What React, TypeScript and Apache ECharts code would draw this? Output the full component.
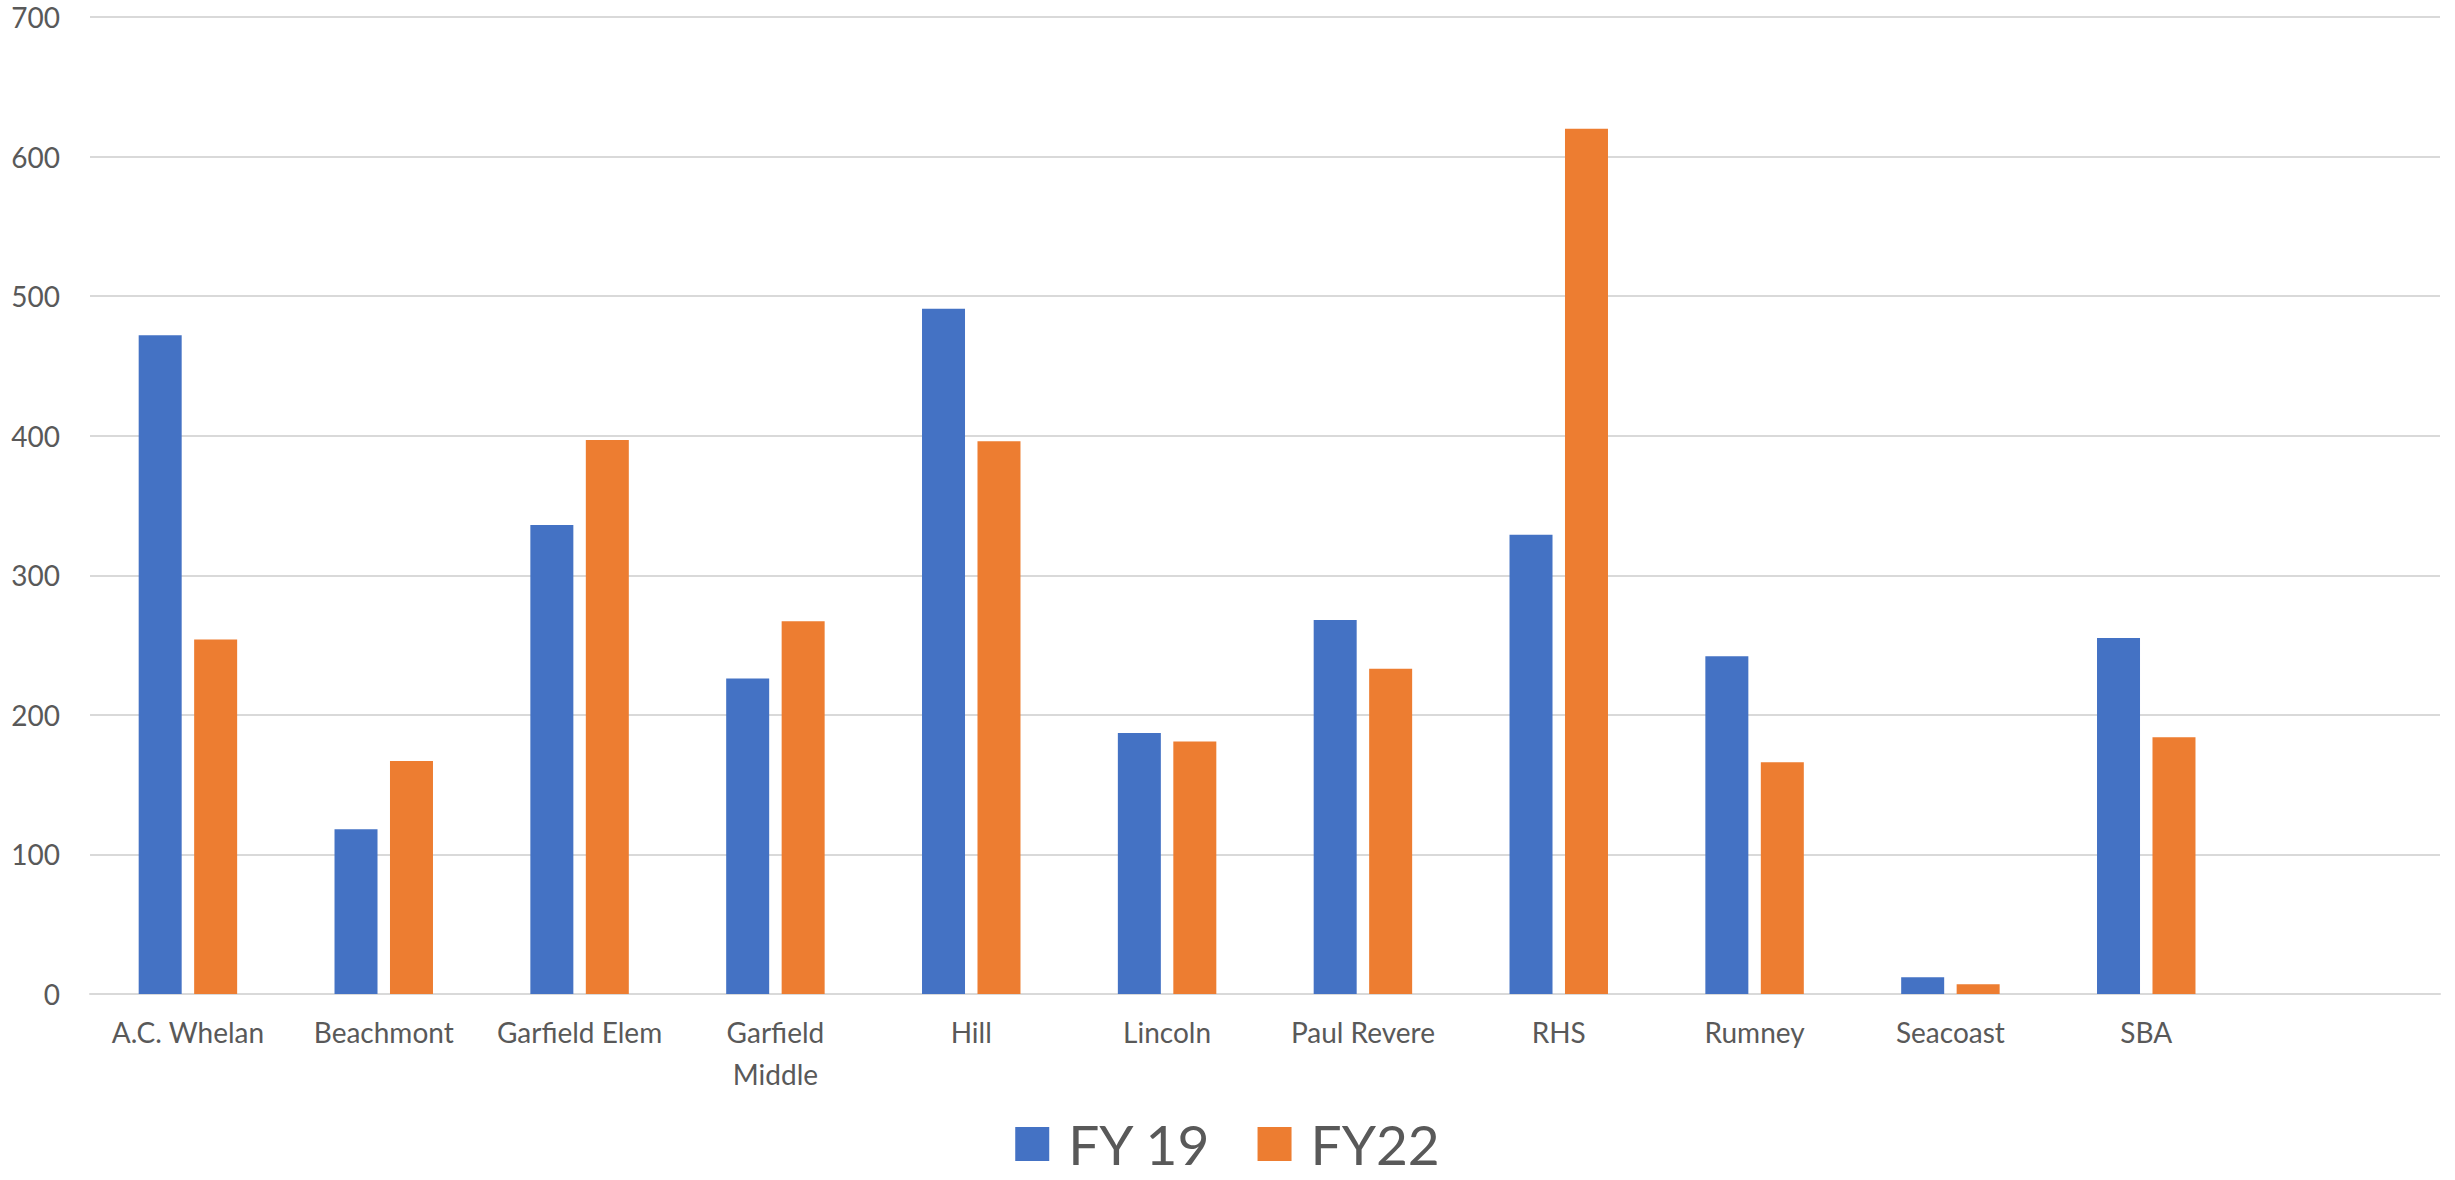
import React, { useEffect, useRef } from "react";
import * as echarts from "echarts";

const categories = [
  "A.C. Whelan",
  "Beachmont",
  "Garfield Elem",
  "Garfield Middle",
  "Hill",
  "Lincoln",
  "Paul Revere",
  "RHS",
  "Rumney",
  "Seacoast",
  "SBA",
  "",
];
const fy19 = [472, 118, 336, 226, 491, 187, 268, 329, 242, 12, 255, null];
const fy22 = [254, 167, 397, 267, 396, 181, 233, 620, 166, 7, 184, null];
const seriesNames = ["FY 19", "FY22"];
const yTicks = { min: 0, max: 700, interval: 100 };

export default function App() {
  const ref = useRef<HTMLDivElement>(null);
  useEffect(() => {
    if (!ref.current) return;
    const chart = echarts.init(ref.current, undefined, { renderer: "svg" });
    const font = "Lato, 'Open Sans', sans-serif";
    chart.setOption({
      animation: false,
      backgroundColor: "#ffffff",
      textStyle: { fontFamily: font },
      grid: { left: 90, right: 15, top: 17, bottom: 186, containLabel: false },
      legend: {
        data: seriesNames,
        left: "center",
        top: 1116,
        padding: 0,
        itemWidth: 34,
        itemHeight: 34,
        itemGap: 46,
        icon: "rect",
        textStyle: {
          fontFamily: font,
          fontSize: 55,
          color: "#595959",
          padding: [0, 0, 0, 14],
          lineHeight: 56,
        },
      },
      xAxis: {
        type: "category",
        data: categories,
        axisLine: { show: true, lineStyle: { color: "#D9D9D9", width: 2 } },
        axisTick: { show: false },
        axisLabel: {
          color: "#595959",
          fontSize: 28,
          fontFamily: font,
          margin: 17,
          lineHeight: 42,
          interval: 0,
          formatter: (v: string) => (v === "Garfield Middle" ? "Garfield\nMiddle" : v),
        },
      },
      yAxis: {
        type: "value",
        min: yTicks.min,
        max: yTicks.max,
        interval: yTicks.interval,
        axisLine: { show: false },
        axisTick: { show: false },
        axisLabel: { color: "#595959", fontSize: 28, fontFamily: font, margin: 30 },
        splitLine: { lineStyle: { color: "#D9D9D9", width: 2 } },
      },
      series: [
        {
          name: seriesNames[0],
          type: "bar",
          data: fy19,
          barWidth: 43,
          barGap: "29%",
          itemStyle: { color: "#4472C4" },
        },
        {
          name: seriesNames[1],
          type: "bar",
          data: fy22,
          barWidth: 43,
          barGap: "29%",
          itemStyle: { color: "#ED7D31" },
        },
      ],
    });
    return () => chart.dispose();
  }, []);
  return (
    <div
      ref={ref}
      style={{ position: "fixed", left: 0, top: 0, width: "2455px", height: "1180px" }}
    />
  );
}
